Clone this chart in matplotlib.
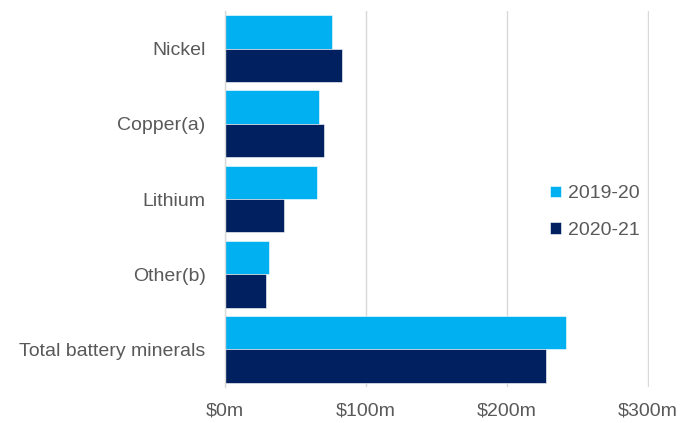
import matplotlib.pyplot as plt
import numpy as np

plt.rcParams['font.family'] = ['Liberation Sans', 'DejaVu Sans']

# Battery mineral values ($m)
categories = ['Nickel', 'Copper(a)', 'Lithium', 'Other(b)', 'Total battery minerals']
series_names = ['2019-20', '2020-21']
values_2019_20 = [76, 67, 65, 31, 242]
values_2020_21 = [83, 70, 42, 29, 228]
x_ticks = [0, 100, 200, 300]
x_tick_labels = ['$0m', '$100m', '$200m', '$300m']

light_blue = '#00B0F0'
navy = '#002060'
text_grey = '#595959'

fig = plt.figure(figsize=(6.8, 4.23), dpi=100)
ax = fig.add_axes([0.331, 0.085, 0.6236, 0.889])

y = np.arange(len(categories))
h = 0.445
ax.barh(y - h / 2, values_2019_20, height=h, color=light_blue, label=series_names[0],
        edgecolor='white', linewidth=0.4)
ax.barh(y + h / 2, values_2020_21, height=h, color=navy, label=series_names[1],
        edgecolor='white', linewidth=0.4)

ax.set_ylim(len(categories) - 0.5, -0.5)
ax.set_xlim(0, 301)
ax.set_yticks(y)
ax.set_yticklabels(categories)
ax.set_xticks(x_ticks)
ax.set_xticklabels(x_tick_labels)
ax.tick_params(axis='both', length=0, labelsize=14, colors=text_grey)
ax.tick_params(axis='y', pad=14)
ax.tick_params(axis='x', pad=11)

ax.grid(axis='x', color='#d9d9d9', linewidth=1)
ax.set_axisbelow(True)
for side in ['top', 'right', 'bottom']:
    ax.spines[side].set_visible(False)
ax.spines['left'].set_color('#d9d9d9')
ax.spines['left'].set_linewidth(1)

leg = ax.legend(loc='center left', bbox_to_anchor=(0.767, 0.465), frameon=False,
                fontsize=14, handlelength=0.55, handleheight=0.55, handletextpad=0.35,
                labelspacing=1.0, borderpad=0, borderaxespad=0)
for t in leg.get_texts():
    t.set_color(text_grey)

fig.savefig('out.png', dpi=100)
